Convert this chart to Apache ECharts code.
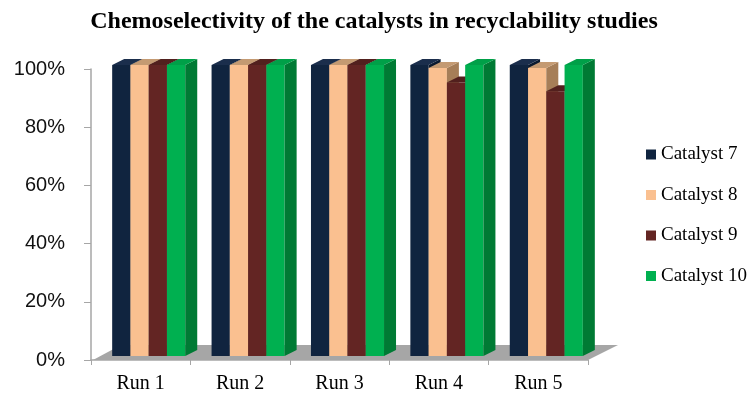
<!DOCTYPE html>
<html>
<head>
<meta charset="utf-8">
<script src="https://cdn.jsdelivr.net/npm/echarts@6/dist/echarts.min.js"></script>
<style>
  html, body { margin: 0; padding: 0; background: #fff; }
  #chart { width: 748px; height: 396px; }
</style>
</head>
<body>
<div id="chart"></div>
<script>
// Chemoselectivity (%) of each catalyst over five reuse runs
const runs = ['Run 1', 'Run 2', 'Run 3', 'Run 4', 'Run 5'];
const seriesNames = ['Catalyst 7', 'Catalyst 8', 'Catalyst 9', 'Catalyst 10'];
const catalyst7 = [100, 100, 100, 100, 100];
const catalyst8 = [100, 100, 100, 99, 99];
const catalyst9 = [100, 100, 100, 94, 91];
const catalyst10 = [100, 100, 100, 100, 100];
const yTicks = [0, 20, 40, 60, 80, 100];

// face colours: front, top, side
const palette = [
  { front: '#10243f', top: '#1b2e4c', side: '#0b1a2f' },
  { front: '#fac090', top: '#c49a72', side: '#a67e58' },
  { front: '#632523', top: '#52201e', side: '#4a1b19' },
  { front: '#00b050', top: '#00a048', side: '#007a34' }
];
const seriesValues = [catalyst7, catalyst8, catalyst9, catalyst10];

// oblique projection offsets
const FLOOR_DX = 30, FLOOR_DY = -15;   // floor depth
const SHIFT_X = 8, SHIFT_Y = -4;       // bars sit a little back on the floor
const BAR_DX = 12, BAR_DY = -6;        // bar depth
const GROUP_RATIO = 0.735;             // share of a category taken by the bar group

function renderFloor(params, api) {
  const cs = params.coordSys;
  const yb = cs.y + cs.height;
  return {
    type: 'polygon',
    shape: { points: [
      [cs.x + 2, yb], [cs.x + cs.width, yb],
      [cs.x + cs.width + FLOOR_DX, yb + FLOOR_DY], [cs.x + FLOOR_DX, yb + FLOOR_DY]
    ] },
    style: { fill: '#a6a6a6' },
    silent: true
  };
}

function makeBarRenderer(k) {
  const c = palette[k];
  return function (params, api) {
    const cat = api.value(0), v = api.value(1);
    const base = api.coord([cat, 0]);
    const top = api.coord([cat, v]);
    const band = api.size([1, 0])[0];
    const groupW = band * GROUP_RATIO;
    const w = groupW / seriesNames.length;
    const x0 = base[0] - groupW / 2 + SHIFT_X + k * w;
    const x1 = x0 + w;
    const yb = base[1] + SHIFT_Y;
    const yt = top[1] + SHIFT_Y;
    return {
      type: 'group',
      children: [
        { type: 'rect', shape: { x: x0, y: yt, width: w, height: yb - yt }, style: { fill: c.front } },
        { type: 'polygon', shape: { points: [[x1, yt], [x1 + BAR_DX, yt + BAR_DY], [x1 + BAR_DX, yb + BAR_DY], [x1, yb]] }, style: { fill: c.side } },
        { type: 'polygon', shape: { points: [[x0, yt], [x1, yt], [x1 + BAR_DX, yt + BAR_DY], [x0 + BAR_DX, yt + BAR_DY]] }, style: { fill: c.top } }
      ]
    };
  };
}

const chart = echarts.init(document.getElementById('chart'));

const series = [{
  type: 'custom',
  name: 'floor',
  renderItem: renderFloor,
  data: [[0, 0]],
  silent: true,
  z: 1
}];
seriesNames.forEach(function (name, k) {
  series.push({
    type: 'custom',
    name: name,
    renderItem: makeBarRenderer(k),
    itemStyle: { color: palette[k].front },
    encode: { x: 0, y: 1 },
    data: seriesValues[k].map(function (v, i) { return [i, v]; }),
    z: 2
  });
});

chart.setOption({
  animation: false,
  backgroundColor: '#ffffff',
  title: {
    text: 'Chemoselectivity of the catalysts in recyclability studies',
    left: 'center',
    top: 5,
    textStyle: { fontFamily: 'Liberation Serif', fontWeight: 'bold', fontSize: 24, color: '#000' }
  },
  legend: {
    orient: 'vertical',
    left: 641,
    top: 140,
    icon: 'rect',
    itemWidth: 10,
    itemHeight: 10,
    itemGap: 21.5,
    data: seriesNames,
    textStyle: { fontFamily: 'Liberation Serif', fontSize: 19, color: '#000', lineHeight: 16 }
  },
  grid: { left: 91, top: 69, width: 497, height: 291 },
  xAxis: {
    type: 'category',
    data: runs,
    axisLine: { lineStyle: { color: '#a6a6a6', width: 1.5 } },
    axisTick: { show: true, length: 5, lineStyle: { color: '#a6a6a6' } },
    axisLabel: { margin: 14, fontFamily: 'Liberation Serif', fontSize: 20, color: '#000' },
    splitLine: { show: false }
  },
  yAxis: {
    type: 'value',
    min: yTicks[0],
    max: yTicks[yTicks.length - 1],
    interval: yTicks[1] - yTicks[0],
    axisLine: { show: true, lineStyle: { color: '#a6a6a6', width: 1.5 } },
    axisTick: { show: true, length: 7, lineStyle: { color: '#a6a6a6' } },
    axisLabel: { margin: 26, formatter: '{value}%', fontFamily: 'Liberation Sans', fontSize: 20, color: '#111' },
    splitLine: { show: false }
  },
  series: series
});
</script>
</body>
</html>
